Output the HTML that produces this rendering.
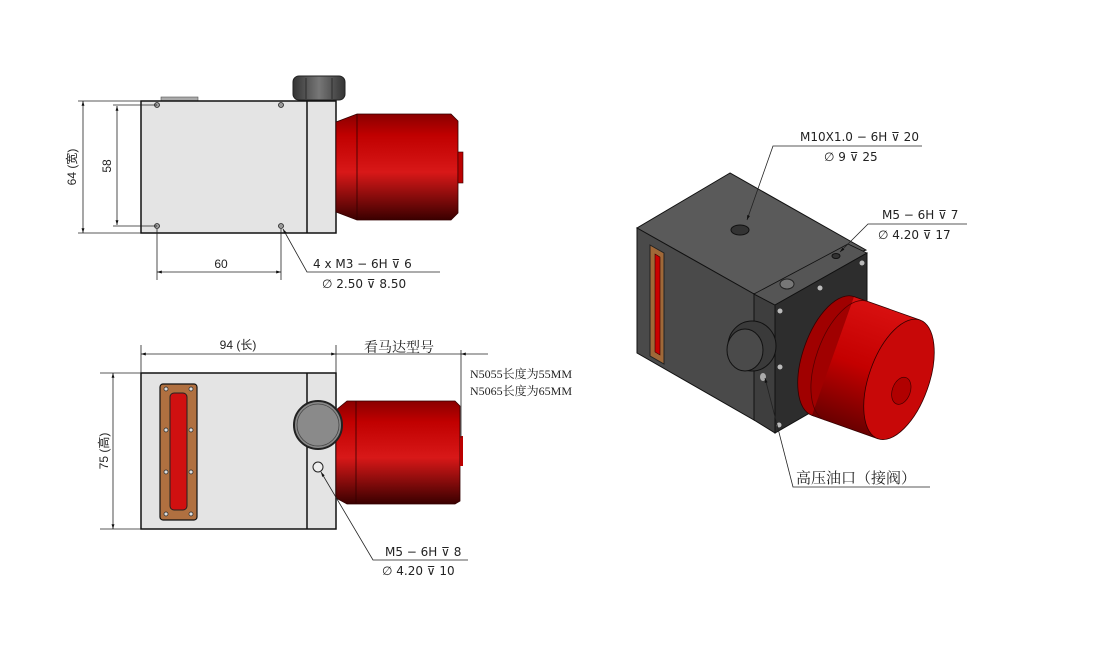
<!DOCTYPE html>
<html><head><meta charset="utf-8"><style>
body{margin:0;background:#fff}
svg{display:block}
text{font-family:"Liberation Sans","Noto Sans CJK SC",sans-serif;fill:#222}
.t{font-size:12px}
.d{font-family:"DejaVu Sans",sans-serif;font-size:12px}
.cn{font-family:"Liberation Serif","Noto Serif CJK SC",serif;font-size:13px}
</style></head><body>
<svg width="1100" height="650" viewBox="0 0 1100 650" xmlns="http://www.w3.org/2000/svg">
<defs>
<linearGradient id="rg" x1="0" y1="0" x2="0" y2="1">
<stop offset="0" stop-color="#8a0000"/><stop offset="0.2" stop-color="#c00000"/><stop offset="0.55" stop-color="#d81818"/><stop offset="1" stop-color="#3a0000"/>
</linearGradient>
<linearGradient id="cg" x1="0" y1="0" x2="0" y2="1">
<stop offset="0" stop-color="#d81010"/><stop offset="0.5" stop-color="#c40000"/><stop offset="1" stop-color="#6a0000"/>
</linearGradient>
<linearGradient id="kn" x1="0" y1="0" x2="1" y2="0">
<stop offset="0" stop-color="#333"/><stop offset="0.5" stop-color="#777"/><stop offset="1" stop-color="#333"/>
</linearGradient>
<marker id="ar" viewBox="0 0 10 10" refX="10" refY="5" markerWidth="10" markerHeight="6" orient="auto-start-reverse"><path d="M0,2 L10,5 L0,8z" fill="#111"/></marker>
</defs>

<!-- TOP VIEW -->
<rect x="161" y="97" width="37" height="4" fill="#aaa" stroke="#555" stroke-width="0.6"/>
<rect x="293" y="76" width="52" height="24" rx="6" fill="url(#kn)" stroke="#222"/>
<line x1="306" y1="78" x2="306" y2="99" stroke="#222" stroke-width="0.8"/>
<line x1="332" y1="78" x2="332" y2="99" stroke="#222" stroke-width="0.8"/>
<rect x="141" y="101" width="195" height="132" fill="#e4e4e4" stroke="#111" stroke-width="1.5"/>
<line x1="307" y1="101" x2="307" y2="233" stroke="#111" stroke-width="1.5"/>
<path d="M336,122 L357,114 L451,114 L458,121 L458,213 L451,220 L357,220 L336,212 Z" fill="url(#rg)" stroke="#300" stroke-width="0.8"/>
<line x1="357" y1="114" x2="357" y2="220" stroke="#300" stroke-width="0.8"/>
<rect x="458" y="152" width="5" height="31" fill="#b00" stroke="#300" stroke-width="0.6"/>
<g fill="#999" stroke="#222" stroke-width="0.8"><circle cx="157" cy="105" r="2.5"/><circle cx="281" cy="105" r="2.5"/><circle cx="157" cy="226" r="2.5"/><circle cx="281" cy="226" r="2.5"/></g>
<g stroke="#222" stroke-width="0.8" fill="none">
<line x1="78" y1="101" x2="141" y2="101"/><line x1="78" y1="233" x2="141" y2="233"/>
<line x1="83" y1="101" x2="83" y2="233" marker-start="url(#ar)" marker-end="url(#ar)"/>
<line x1="113" y1="105" x2="157" y2="105"/><line x1="113" y1="226" x2="157" y2="226"/>
<line x1="117" y1="106" x2="117" y2="225" marker-start="url(#ar)" marker-end="url(#ar)"/>
<line x1="157" y1="229" x2="157" y2="280"/><line x1="281" y1="229" x2="281" y2="280"/>
<line x1="157" y1="272" x2="281" y2="272" marker-start="url(#ar)" marker-end="url(#ar)"/>
<polyline points="440,272 307,272 283,229" marker-end="url(#ar)"/>
</g>
<text class="t" transform="translate(76,167) rotate(-90)" text-anchor="middle">64 (宽)</text>
<text class="t" transform="translate(111,166) rotate(-90)" text-anchor="middle">58</text>
<text class="t" x="221" y="268" text-anchor="middle">60</text>
<text class="d" x="313" y="268">4 x  M3 − 6H ⊽ 6</text>
<text class="d" x="322" y="288">∅ 2.50 ⊽ 8.50</text>

<!-- FRONT VIEW -->
<rect x="141" y="373" width="195" height="156" fill="#e4e4e4" stroke="#111" stroke-width="1.5"/>
<line x1="307" y1="373" x2="307" y2="529" stroke="#111" stroke-width="1.5"/>
<rect x="160" y="384" width="37" height="136" rx="3" fill="#b07040" stroke="#111" stroke-width="1.2"/>
<rect x="170" y="393" width="17" height="117" rx="4" fill="#d01010" stroke="#222"/>
<g fill="#ddd" stroke="#222" stroke-width="0.7"><circle cx="166" cy="389" r="2"/><circle cx="191" cy="389" r="2"/><circle cx="166" cy="430" r="2"/><circle cx="191" cy="430" r="2"/><circle cx="166" cy="472" r="2"/><circle cx="191" cy="472" r="2"/><circle cx="166" cy="514" r="2"/><circle cx="191" cy="514" r="2"/></g>
<path d="M336,410 L347,401 L455,401 L460,406 L460,501 L455,504 L347,504 L336,498 Z" fill="url(#rg)" stroke="#300" stroke-width="0.8"/>
<line x1="356" y1="401" x2="356" y2="504" stroke="#300" stroke-width="0.8"/>
<rect x="460" y="436" width="3" height="30" fill="#b00"/>
<circle cx="318" cy="425" r="24" fill="#888" stroke="#222" stroke-width="2"/>
<circle cx="318" cy="425" r="21" fill="#8a8a8a" stroke="#444" stroke-width="0.8"/>
<circle cx="318" cy="467" r="5" fill="#eee" stroke="#222"/>
<g stroke="#222" stroke-width="0.8" fill="none">
<line x1="141" y1="345" x2="141" y2="373"/><line x1="336" y1="345" x2="336" y2="373"/>
<line x1="141" y1="354" x2="336" y2="354" marker-start="url(#ar)" marker-end="url(#ar)"/>
<line x1="336" y1="354" x2="461" y2="354"/>
<line x1="461" y1="354" x2="488" y2="354" marker-start="url(#ar)"/>
<line x1="461" y1="350" x2="461" y2="438"/>
<line x1="100" y1="373" x2="141" y2="373"/><line x1="100" y1="529" x2="141" y2="529"/>
<line x1="113" y1="373" x2="113" y2="529" marker-start="url(#ar)" marker-end="url(#ar)"/>
<polyline points="468,560 373,560 321,472" marker-end="url(#ar)"/>
</g>
<text class="t" x="238" y="349" text-anchor="middle">94 (长)</text>
<text class="cn" x="364" y="352" style="font-size:14px">看马达型号</text>
<text class="cn" x="470" y="378" style="font-size:12px">N5055长度为55MM</text>
<text class="cn" x="470" y="395" style="font-size:12px">N5065长度为65MM</text>
<text class="t" transform="translate(108,451) rotate(-90)" text-anchor="middle">75 (高)</text>
<text class="d" x="385" y="556">M5 − 6H ⊽ 8</text>
<text class="d" x="382" y="575">∅ 4.20 ⊽ 10</text>

<!-- ISO VIEW -->
<polygon points="730,173 637,228 754,294 866,250" fill="#5a5a5a" stroke="#111"/>
<polygon points="637,228 754,294 754,420 637,353" fill="#4a4a4a" stroke="#111"/>
<polygon points="754,294 775,305 775,433 754,420" fill="#3e3e3e" stroke="#111"/>
<polygon points="754,294 775,305 867,253 848,244" fill="#555" stroke="#111" stroke-width="0.8"/>
<polygon points="775,305 867,253 867,380 775,433" fill="#2d2d2d" stroke="#111"/>
<polygon points="650,245 664,253 664,364 650,356" fill="#a06838" stroke="#222"/>
<polygon points="655,254 660,257 660,355 655,352" fill="#c00" stroke="#300" stroke-width="0.6"/>
<ellipse cx="740" cy="230" rx="9" ry="5" fill="#333" stroke="#111"/>
<ellipse cx="836" cy="256" rx="4" ry="2.5" fill="#333" stroke="#111"/>
<ellipse cx="787" cy="284" rx="7" ry="5" fill="#777" stroke="#222"/>
<g fill="#bbb"><circle cx="780" cy="311" r="2.5"/><circle cx="820" cy="288" r="2.5"/><circle cx="862" cy="263" r="2.5"/><circle cx="780" cy="367" r="2.5"/><circle cx="779" cy="425" r="2.5"/><circle cx="820" cy="402" r="2.5"/></g>
<!-- cylinder -->
<g transform="translate(833,356) rotate(19.5)">
<ellipse cx="0" cy="0" rx="30" ry="63" fill="#a00000" stroke="#300" stroke-width="0.8"/>
<rect x="0" y="-63" width="70" height="126" fill="url(#cg)"/>
<line x1="0" y1="-63" x2="70" y2="-63" stroke="#300" stroke-width="0.8"/>
<line x1="0" y1="63" x2="70" y2="63" stroke="#300" stroke-width="0.8"/>
<path d="M14,-63 A30,63 0 0 0 14,63" fill="none" stroke="#500" stroke-width="0.8"/>
<ellipse cx="70" cy="0" rx="30" ry="63" fill="#c80808" stroke="#300" stroke-width="0.8"/>
<ellipse cx="76" cy="10" rx="9" ry="14" fill="#b00000" stroke="#400" stroke-width="0.7"/>
</g>
<!-- knob -->
<ellipse cx="752" cy="346" rx="24" ry="25" fill="#3a3a3a" stroke="#111"/>
<ellipse cx="745" cy="350" rx="18" ry="21" fill="#4a4a4a" stroke="#111"/>
<ellipse cx="763" cy="377" rx="3" ry="4" fill="#aaa"/>
<g stroke="#222" stroke-width="0.8" fill="none">
<polyline points="922,146 773,146 747,220" marker-end="url(#ar)"/>
<polyline points="967,224 868,224 840,252" marker-end="url(#ar)"/>
<polyline points="930,487 793,487 765,378" marker-end="url(#ar)"/>
</g>
<text class="d" x="800" y="141">M10X1.0 − 6H ⊽ 20</text>
<text class="d" x="824" y="161">∅ 9 ⊽ 25</text>
<text class="d" x="882" y="219">M5 − 6H ⊽ 7</text>
<text class="d" x="878" y="239">∅ 4.20 ⊽ 17</text>
<text class="cn" x="796" y="483" style="font-size:15px">高压油口（接阀）</text>
</svg>
</body></html>
